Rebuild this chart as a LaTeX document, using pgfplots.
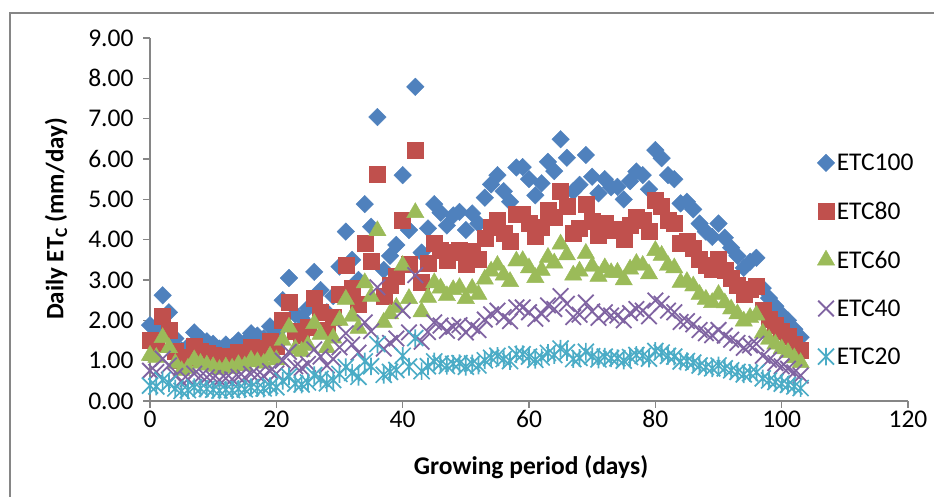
\documentclass[border=0pt]{standalone}
\usepackage{fontspec}
\setmainfont{Carlito}
\usepackage{pgfplots}
\pgfplotsset{compat=1.18}
\usepackage{pgfplotstable}

\definecolor{cA}{RGB}{79,129,189}
\definecolor{cB}{RGB}{192,80,77}
\definecolor{cC}{RGB}{155,187,89}
\definecolor{cD}{RGB}{128,100,162}
\definecolor{cE}{RGB}{75,172,198}
\definecolor{axisgray}{RGB}{134,134,134}

% six-armed star: an x with a vertical stroke through it
\pgfdeclareplotmark{xstar}{%
  \pgfpathmoveto{\pgfqpoint{-\pgfplotmarksize}{-\pgfplotmarksize}}%
  \pgfpathlineto{\pgfqpoint{\pgfplotmarksize}{\pgfplotmarksize}}%
  \pgfpathmoveto{\pgfqpoint{-\pgfplotmarksize}{\pgfplotmarksize}}%
  \pgfpathlineto{\pgfqpoint{\pgfplotmarksize}{-\pgfplotmarksize}}%
  \pgfpathmoveto{\pgfqpoint{0pt}{-1.1\pgfplotmarksize}}%
  \pgfpathlineto{\pgfqpoint{0pt}{1.1\pgfplotmarksize}}%
  \pgfusepathqstroke}

% daily crop evapotranspiration (mm/day) for the five irrigation levels
\pgfplotstableread{
day e100 e80 e60 e40 e20
0 1.88 1.50 1.13 0.75 0.38
1 1.80 1.44 1.08 0.72 0.36
2 2.62 2.10 1.57 1.05 0.52
3 2.20 1.76 1.32 0.88 0.44
4 1.55 1.24 0.93 0.62 0.31
5 1.25 1.00 0.75 0.50 0.25
6 1.35 1.08 0.81 0.54 0.27
7 1.70 1.36 1.02 0.68 0.34
8 1.55 1.24 0.93 0.62 0.31
9 1.48 1.18 0.89 0.59 0.30
10 1.42 1.14 0.85 0.57 0.28
11 1.30 1.04 0.78 0.52 0.26
12 1.40 1.12 0.84 0.56 0.28
13 1.35 1.08 0.81 0.54 0.27
14 1.50 1.20 0.90 0.60 0.30
15 1.45 1.16 0.87 0.58 0.29
16 1.68 1.34 1.01 0.67 0.34
17 1.62 1.30 0.97 0.65 0.32
18 1.55 1.24 0.93 0.62 0.31
19 1.85 1.48 1.11 0.74 0.37
20 1.70 1.36 1.02 0.68 0.34
21 2.50 2.00 1.50 1.00 0.50
22 3.05 2.44 1.83 1.22 0.61
23 2.15 1.72 1.29 0.86 0.43
24 2.05 1.64 1.23 0.82 0.41
25 2.30 1.84 1.38 0.92 0.46
26 3.20 2.56 1.92 1.28 0.64
27 2.75 2.20 1.65 1.10 0.55
28 2.20 1.76 1.32 0.88 0.44
29 2.60 2.08 1.56 1.04 0.52
30 3.33 2.66 2.00 1.33 0.67
31 4.20 3.36 2.52 1.68 0.84
32 3.50 2.80 2.10 1.40 0.70
33 3.00 2.40 1.80 1.20 0.60
34 4.88 3.90 2.93 1.95 0.98
35 4.32 3.46 2.59 1.73 0.86
36 7.04 5.63 4.22 2.82 1.41
37 3.25 2.60 1.95 1.30 0.65
38 3.60 2.88 2.16 1.44 0.72
39 3.87 3.10 2.32 1.55 0.77
40 5.60 4.48 3.36 2.24 1.12
41 4.24 3.39 2.54 1.70 0.85
42 7.79 6.23 4.67 3.12 1.56
43 3.68 2.94 2.21 1.47 0.74
44 4.28 3.42 2.57 1.71 0.86
45 4.88 3.90 2.93 1.95 0.98
46 4.67 3.74 2.80 1.87 0.93
47 4.35 3.48 2.61 1.74 0.87
48 4.60 3.68 2.76 1.84 0.92
49 4.69 3.75 2.81 1.88 0.94
50 4.24 3.39 2.54 1.70 0.85
51 4.65 3.72 2.79 1.86 0.93
52 4.40 3.52 2.64 1.76 0.88
53 5.04 4.03 3.02 2.02 1.01
54 5.37 4.30 3.22 2.15 1.07
55 5.60 4.48 3.36 2.24 1.12
56 5.20 4.16 3.12 2.08 1.04
57 4.94 3.95 2.96 1.98 0.99
58 5.79 4.63 3.47 2.32 1.16
59 5.80 4.64 3.48 2.32 1.16
60 5.50 4.40 3.30 2.20 1.10
61 5.10 4.08 3.06 2.04 1.02
62 5.40 4.32 3.24 2.16 1.08
63 5.93 4.74 3.56 2.37 1.19
64 5.70 4.56 3.42 2.28 1.14
65 6.49 5.19 3.89 2.60 1.30
66 6.03 4.82 3.62 2.41 1.21
67 5.20 4.16 3.12 2.08 1.04
68 5.36 4.29 3.22 2.14 1.07
69 6.10 4.88 3.66 2.44 1.22
70 5.56 4.45 3.34 2.22 1.11
71 5.15 4.12 3.09 2.06 1.03
72 5.50 4.40 3.30 2.20 1.10
73 5.30 4.24 3.18 2.12 1.06
74 5.31 4.25 3.19 2.12 1.06
75 5.00 4.00 3.00 2.00 1.00
76 5.45 4.36 3.27 2.18 1.09
77 5.69 4.55 3.41 2.28 1.14
78 5.60 4.48 3.36 2.24 1.12
79 5.25 4.20 3.15 2.10 1.05
80 6.22 4.98 3.73 2.49 1.24
81 6.02 4.82 3.61 2.41 1.20
82 5.60 4.48 3.36 2.24 1.12
83 5.50 4.40 3.30 2.20 1.10
84 4.90 3.92 2.94 1.96 0.98
85 4.94 3.95 2.96 1.98 0.99
86 4.75 3.80 2.85 1.90 0.95
87 4.40 3.52 2.64 1.76 0.88
88 4.20 3.36 2.52 1.68 0.84
89 4.07 3.26 2.44 1.63 0.81
90 4.40 3.52 2.64 1.76 0.88
91 4.05 3.24 2.43 1.62 0.81
92 3.80 3.04 2.28 1.52 0.76
93 3.60 2.88 2.16 1.44 0.72
94 3.30 2.64 1.98 1.32 0.66
95 3.45 2.76 2.07 1.38 0.69
96 3.55 2.84 2.13 1.42 0.71
97 2.80 2.24 1.68 1.12 0.56
98 2.55 2.04 1.53 1.02 0.51
99 2.35 1.88 1.41 0.94 0.47
100 2.15 1.72 1.29 0.86 0.43
101 2.00 1.60 1.20 0.80 0.40
102 1.78 1.42 1.07 0.71 0.36
103 1.58 1.26 0.95 0.63 0.32
}\etcdata

\begin{document}
\begin{tikzpicture}
\useasboundingbox (0pt,0pt) rectangle (934pt,497pt);
% chart area frame
\draw[axisgray, line width=1.3pt] (10pt,-10pt) -- (10pt,484pt) -- (950pt,484pt);
\begin{axis}[
  at={(150pt,96pt)}, anchor=south west,
  scale only axis, width=758pt, height=363pt,
  xmin=0, xmax=120, ymin=0, ymax=9,
  xtick={0,20,...,120}, ytick={0,1,...,9},
  axis x line*=bottom, axis y line*=left,
  axis line style={axisgray, line width=1.3pt, -},
  every outer x axis line/.append style={-},
  every outer y axis line/.append style={-},
  tick align=outside, major tick length=7pt,
  tick style={axisgray, line width=1.3pt},
  ticklabel style={font=\fontsize{25.5}{30}\selectfont, text=black},
  /pgf/number format/assume math mode=true,
  y tick label style={/pgf/number format/fixed,
    /pgf/number format/fixed zerofill,
    /pgf/number format/precision=2, xshift=-6pt},
  x tick label style={yshift=1pt},
  clip=false,
  legend style={at={(rel axis cs:0.88,0.687)}, anchor=north west,
    draw=none, fill=none, font=\fontsize{25.5}{30}\selectfont,
    row sep=26pt, inner sep=0pt},
  legend cell align=left,
]
\addplot[only marks, mark=square*, mark size=6.2pt, mark options={rotate=45, fill=cA, draw=cA}]
  table[x=day, y=e100] {\etcdata};
\addlegendentry{ETC100}
\addplot[only marks, mark=square*, mark size=8pt, mark options={fill=cB, draw=cB}]
  table[x=day, y=e80] {\etcdata};
\addlegendentry{ETC80}
\addplot[only marks, mark=triangle*, mark size=10pt, mark options={fill=cC, draw=cC}]
  table[x=day, y=e60] {\etcdata};
\addlegendentry{ETC60}
\addplot[only marks, mark=x, mark size=11pt, mark options={draw=cD, line width=1.8pt}]
  table[x=day, y=e40] {\etcdata};
\addlegendentry{ETC40}
\addplot[only marks, mark=xstar, mark size=8pt, mark options={draw=cE, line width=1.7pt}]
  table[x=day, y=e20] {\etcdata};
\addlegendentry{ETC20}
\end{axis}
\node[rotate=90, font=\bfseries\fontsize{25}{30}\selectfont] at (56pt,278pt)
  {Daily ET\textsubscript{C} (mm/day)};
\node[font=\bfseries\fontsize{25.5}{30}\selectfont] at (531pt,30pt)
  {Growing period (days)};
\end{tikzpicture}
\end{document}
